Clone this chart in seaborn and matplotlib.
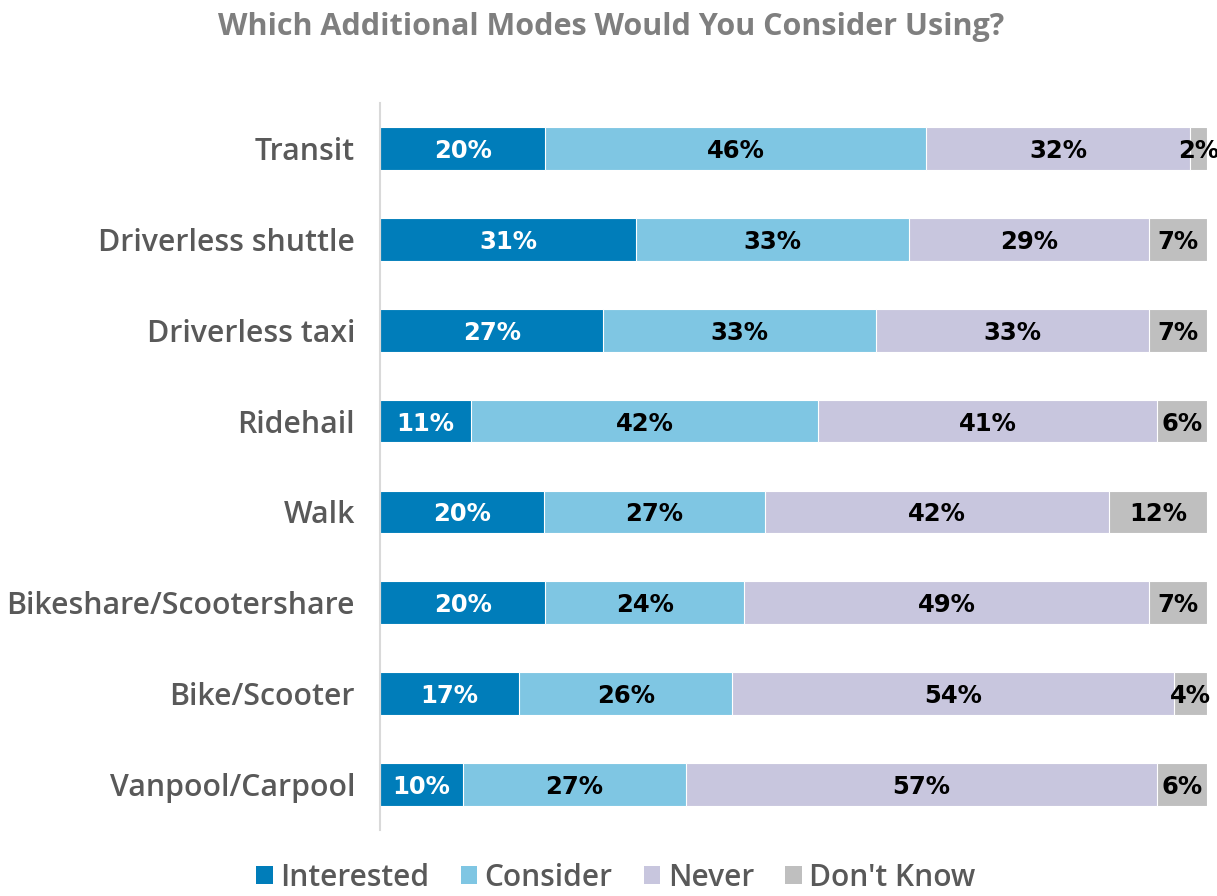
import numpy as np
import pandas as pd
import matplotlib
matplotlib.use("Agg")
import matplotlib.pyplot as plt
from matplotlib.patches import Patch
import seaborn as sns

categories = ["Transit", "Driverless shuttle", "Driverless taxi", "Ridehail", "Walk",
              "Bikeshare/Scootershare", "Bike/Scooter", "Vanpool/Carpool"]
interested = [20, 31, 27, 11, 20, 20, 17, 10]
consider = [46, 33, 33, 42, 27, 24, 26, 27]
never = [32, 29, 33, 41, 42, 49, 54, 57]
dont_know = [2, 7, 7, 6, 12, 7, 4, 6]
series_names = ["Interested", "Consider", "Never", "Don't Know"]
colors = ["#007DBA", "#7FC6E3", "#C8C6DE", "#BFBFBF"]
label_colors = ["white", "black", "black", "black"]

sns.set_theme(style="white")
FONT = "Open Sans"
plt.rcParams["font.family"] = [FONT, "DejaVu Sans"]

vals = np.array([interested, consider, never, dont_know], dtype=float)
shares = vals / vals.sum(axis=0) * 100
cum = np.cumsum(shares, axis=0)

fig = plt.figure(figsize=(12.17, 8.96), dpi=100)
ax = fig.add_axes([380 / 1217, 1 - 830 / 896, 827 / 1217, 727 / 896])

# draw cumulative bars from widest to narrowest so they stack visually
for i in range(3, -1, -1):
    df = pd.DataFrame({"cat": categories, "val": cum[i]})
    sns.barplot(data=df, x="val", y="cat", order=categories, color=colors[i],
                width=0.47, edgecolor="white", linewidth=0.8, ax=ax,
                saturation=1)

for j in range(len(categories)):
    for i in range(4):
        left = cum[i][j] - shares[i][j]
        center = left + shares[i][j] / 2
        ax.text(center, j, f"{int(vals[i][j])}%", ha="center", va="center_baseline",
                color=label_colors[i], fontsize=17.5, fontweight="bold",
                family=["DejaVu Sans"])

ax.set_xlim(0, 100)
ax.set_ylim(len(categories) - 0.5, -0.5)
ax.set_xlabel("")
ax.set_ylabel("")
ax.set_xticks([])
ax.tick_params(axis="y", length=0, pad=18, labelsize=21.8, labelcolor="#595959")
for lab in ax.get_yticklabels():
    lab.set_fontweight(600)
for s in ["top", "right", "bottom"]:
    ax.spines[s].set_visible(False)
ax.spines["left"].set_color("#D9D9D9")
ax.spines["left"].set_linewidth(1.5)

fig.text(611 / 1217, 1 - 27 / 896, "Which Additional Modes Would You Consider Using?",
         ha="center", va="center", fontsize=22, fontweight="bold", color="#7F7F7F")

handles = [Patch(facecolor=c, edgecolor="none") for c in colors]
leg = fig.legend(handles, series_names, loc="center", bbox_to_anchor=(616 / 1217, 1 - 878 / 896),
                 ncol=4, frameon=False, fontsize=21.5, labelcolor="#595959",
                 handlelength=0.55, handleheight=0.55, handletextpad=0.25, columnspacing=1.05,
                 borderpad=0.1)
for t in leg.get_texts():
    t.set_fontweight(600)

fig.savefig("out.png", dpi=100)
